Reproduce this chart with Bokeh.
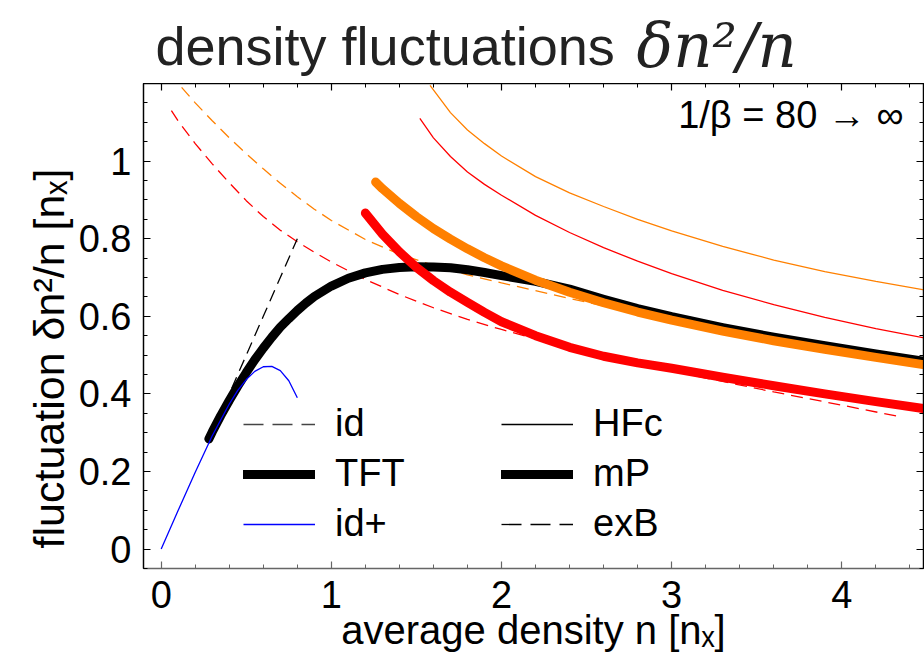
import numpy as np
from bokeh.plotting import figure
from bokeh.layouts import column, row
from bokeh.models import (Label, Legend, LegendItem, LinearAxis, SingleIntervalTicker,
                          CustomJSTickFormatter, Range1d)
from bokeh.embed import file_html
from bokeh.resources import INLINE

# ---------------- data ----------------
# ideal gas (id), dashed black
id_x = [0.28, 0.40, 0.50, 0.60, 0.70, 0.80]
id_y = [0.28, 0.40, 0.50, 0.60, 0.70, 0.80]

# ideal gas with first correction (id+), blue
idp_x = [0.0, 0.1, 0.2, 0.3, 0.4, 0.45, 0.5, 0.55, 0.6, 0.65, 0.7, 0.75, 0.8]
idp_y = [0.0, 0.10, 0.198, 0.292, 0.374, 0.409, 0.437, 0.458, 0.470, 0.471, 0.460, 0.434, 0.390]

# Thomas-Fermi theory (TFT), thick black
tft_x = [0.28, 0.30, 0.35, 0.40, 0.45, 0.50, 0.55, 0.60, 0.65, 0.70, 0.75, 0.80, 0.85, 0.90,
         1.00, 1.10, 1.20, 1.30, 1.40, 1.50, 1.60, 1.70, 1.80, 1.90, 2.00, 2.20, 2.40, 2.60,
         2.80, 3.00, 3.30, 3.60, 3.90, 4.20, 4.50]
tft_y = [0.284, 0.302, 0.344, 0.383, 0.420, 0.455, 0.488, 0.518, 0.546, 0.572, 0.594, 0.615,
         0.634, 0.651, 0.678, 0.698, 0.712, 0.721, 0.726, 0.728, 0.727, 0.725, 0.720, 0.713,
         0.705, 0.690, 0.670, 0.644, 0.620, 0.599, 0.571, 0.546, 0.524, 0.503, 0.483]

# Hartree-Fock with correlation (HFc), thin solid
hfc_orange_x = [1.58, 1.70, 1.80, 1.90, 2.00, 2.20, 2.40, 2.60, 2.80, 3.00, 3.30, 3.60, 3.90, 4.20, 4.50]
hfc_orange_y = [1.195, 1.125, 1.080, 1.045, 1.013, 0.960, 0.918, 0.883, 0.850, 0.820, 0.780,
                0.745, 0.715, 0.690, 0.667]
hfc_red_x = [1.52, 1.60, 1.70, 1.80, 1.90, 2.00, 2.20, 2.40, 2.60, 2.80, 3.00, 3.30, 3.60, 3.90, 4.20, 4.50]
hfc_red_y = [1.110, 1.060, 1.012, 0.972, 0.940, 0.912, 0.860, 0.816, 0.777, 0.742, 0.710,
             0.667, 0.630, 0.597, 0.568, 0.543]

# modified Poisson (mP), thick
mp_orange_x = [1.26, 1.30, 1.40, 1.50, 1.60, 1.70, 1.80, 1.90, 2.00, 2.20, 2.40, 2.60, 2.80,
               3.00, 3.30, 3.60, 3.90, 4.20, 4.50]
mp_orange_y = [0.946, 0.929, 0.891, 0.857, 0.826, 0.799, 0.774, 0.751, 0.730, 0.693, 0.662,
               0.635, 0.611, 0.590, 0.562, 0.537, 0.515, 0.494, 0.474]
mp_red_x = [1.20, 1.30, 1.40, 1.50, 1.60, 1.70, 1.80, 1.90, 2.00, 2.20, 2.40, 2.60, 2.80,
            3.00, 3.30, 3.60, 3.90, 4.20, 4.50]
mp_red_y = [0.866, 0.812, 0.766, 0.726, 0.692, 0.662, 0.636, 0.610, 0.586, 0.550, 0.520,
            0.497, 0.480, 0.466, 0.443, 0.421, 0.400, 0.380, 0.361]

# exchange-corrected Boltzmann (exB), thin dashed
exb_orange_x = [0.12, 0.20, 0.30, 0.40, 0.50, 0.60, 0.70, 0.80, 0.90, 1.00, 1.20, 1.40, 1.60,
                1.80, 2.00, 2.40, 2.80, 3.20, 3.60, 4.00, 4.43]
exb_orange_y = [1.190, 1.150, 1.104, 1.060, 1.019, 0.980, 0.943, 0.908, 0.876, 0.847, 0.798,
                0.760, 0.731, 0.707, 0.686, 0.646, 0.608, 0.570, 0.535, 0.503, 0.472]
exb_red_x = [0.06, 0.10, 0.20, 0.30, 0.40, 0.50, 0.60, 0.70, 0.80, 0.90, 1.00, 1.20, 1.40,
             1.60, 1.80, 2.00, 2.40, 2.80, 3.20, 3.60, 4.00, 4.32]
exb_red_y = [1.130, 1.103, 1.045, 0.993, 0.944, 0.898, 0.857, 0.822, 0.792, 0.765, 0.740,
             0.695, 0.656, 0.622, 0.592, 0.566, 0.518, 0.478, 0.441, 0.405, 0.371, 0.343]

x_ticks = [0, 1, 2, 3, 4]
x_tick_labels = ["0", "1", "2", "3", "4"]
y_ticks = [0.0, 0.2, 0.4, 0.6, 0.8, 1.0]
y_tick_labels = ["0", "0.2", "0.4", "0.6", "0.8", "1"]

# ---------------- styling ----------------
FONT = "Liberation Sans"
ORANGE = "#FF8000"
RED = "#FF0000"
BLUE = "#0000FF"
THICK = 9
THIN = 1.3
DASH = "12 7"          # dashed curves in the plot
LEGEND_DASH = "20 9"   # longer dashes in the legend samples

LEFT_STRIP = 75      # column holding the rotated y-axis title
TITLE_H = 83         # band holding the plot title
W, H = 924, 660


def text_panel(width, height):
    f = figure(width=width, height=height, output_backend="svg", toolbar_location=None,
               x_range=Range1d(0, width), y_range=Range1d(0, height),
               x_axis_type=None, y_axis_type=None, min_border=0)
    f.outline_line_color = None
    f.grid.visible = False
    return f


# title band
head = text_panel(W, TITLE_H)
head.add_layout(Label(x=155, y=38, x_units="screen", y_units="screen",
                      text="density fluctuations", text_font=FONT, text_font_size="54px",
                      text_baseline="alphabetic", text_color="#222222"))
head.add_layout(Label(x=636, y=38, x_units="screen", y_units="screen", text="δn²/n",
                      text_font="DejaVu Serif", text_font_style="italic",
                      text_font_size="61px", text_baseline="alphabetic", text_color="#222222"))

# y-axis title strip
ylab = text_panel(LEFT_STRIP, H - TITLE_H)
ylab.add_layout(Label(x=48, y=210, x_units="screen", y_units="screen",
                      text="fluctuation δn²/n [nₓ]", angle=np.pi / 2,
                      text_font=FONT, text_font_size="43px", text_align="center",
                      text_baseline="middle", text_color="black"))

# main plot
p = figure(width=W - LEFT_STRIP, height=H - TITLE_H, output_backend="svg",
           toolbar_location=None,
           x_range=Range1d(-0.104, 4.48), y_range=Range1d(-0.05, 1.2),
           x_axis_type=None, y_axis_type=None,
           min_border_left=65, min_border_right=1, min_border_top=0, min_border_bottom=92)
p.outline_line_color = "black"
p.outline_line_width = 1.2


def tick_formatter(values, labels):
    return CustomJSTickFormatter(args=dict(tick_values=values, tick_labels=labels), code="""
        const i = tick_values.findIndex(t => Math.abs(t - tick) < 1e-6);
        return i >= 0 ? tick_labels[i] : '';
    """)


def make_axis(interval, n_minor, formatter, color, label_size="38px"):
    ax = LinearAxis(ticker=SingleIntervalTicker(interval=interval, num_minor_ticks=n_minor),
                    formatter=formatter)
    ax.major_tick_in = 7
    ax.major_tick_out = 0
    ax.minor_tick_in = 4
    ax.minor_tick_out = 0
    ax.axis_line_color = color
    ax.axis_line_width = 1.3
    ax.major_tick_line_color = color
    ax.minor_tick_line_color = color
    ax.major_tick_line_width = 1.2
    ax.minor_tick_line_width = 1.0
    ax.major_label_text_font = FONT
    ax.major_label_text_font_size = label_size
    ax.major_label_text_color = "black"
    return ax


blank = CustomJSTickFormatter(code="return '';")

bottom = make_axis(1, 5, tick_formatter(x_ticks, x_tick_labels), "#666666")
bottom.major_label_standoff = 12
bottom.axis_label = "average density n [nₓ]"
bottom.axis_label_text_font = FONT
bottom.axis_label_text_font_size = "40px"
bottom.axis_label_text_font_style = "normal"
bottom.axis_label_text_color = "black"
bottom.axis_label_standoff = -3
left = make_axis(0.2, 4, tick_formatter(y_ticks, y_tick_labels), "black")
left.major_label_standoff = 12
top = make_axis(1, 5, blank, "black", "0px")
top.major_label_standoff = 0
right = make_axis(0.2, 4, blank, "black", "0px")
right.major_label_standoff = 0
p.add_layout(bottom, "below")
p.add_layout(left, "left")
p.add_layout(top, "above")
p.add_layout(right, "right")

# ---------------- curves ----------------
p.line(exb_orange_x, exb_orange_y, color=ORANGE, line_width=THIN, line_dash=DASH)
p.line(exb_red_x, exb_red_y, color=RED, line_width=THIN, line_dash=DASH)
p.line(hfc_orange_x, hfc_orange_y, color=ORANGE, line_width=THIN)
p.line(hfc_red_x, hfc_red_y, color=RED, line_width=THIN)
r_tft = p.line(tft_x, tft_y, color="black", line_width=THICK, line_cap="round", line_join="round")
p.line(mp_red_x, mp_red_y, color=RED, line_width=THICK, line_cap="round", line_join="round")
p.line(mp_orange_x, mp_orange_y, color=ORANGE, line_width=THICK, line_cap="round", line_join="round")
p.line(id_x, id_y, color="black", line_width=THIN, line_dash=DASH)
r_idp = p.line(idp_x, idp_y, color=BLUE, line_width=THIN)

# stand-ins (no visible points) that only style the legend samples
nothing = [float("nan")] * 2
r_id = p.line(nothing, nothing, color="#444444", line_width=THIN, line_dash=LEGEND_DASH)
r_hfc = p.line(nothing, nothing, color="black", line_width=THIN)
r_mp = p.line(nothing, nothing, color="black", line_width=THICK, line_cap="round")
r_exb = p.line(nothing, nothing, color="black", line_width=THIN, line_dash=LEGEND_DASH)


def make_legend(items, loc):
    lg = Legend(items=[LegendItem(label=l, renderers=[r]) for l, r in items], location=loc)
    lg.border_line_color = None
    lg.background_fill_alpha = 0
    lg.padding = 0
    lg.margin = 0
    lg.spacing = 7
    lg.glyph_width = 72
    lg.glyph_height = 40
    lg.label_height = 40
    lg.label_standoff = 20
    lg.label_text_font = FONT
    lg.label_text_font_size = "38px"
    lg.label_text_color = "black"
    return lg


p.add_layout(make_legend([("id", r_id), ("TFT", r_tft), ("id+", r_idp)], (100, 23)))
p.add_layout(make_legend([("HFc", r_hfc), ("mP", r_mp), ("exB", r_exb)], (358, 23)))

p.add_layout(Label(x=760, y=454, x_units="screen", y_units="screen", text="1/β = 80 → ∞",
                   text_font=FONT, text_font_size="38px", text_align="right",
                   text_baseline="alphabetic", text_color="black"))

layout = column(head, row(ylab, p, spacing=0), spacing=0)
open("out.html", "w").write(file_html(layout, INLINE))
